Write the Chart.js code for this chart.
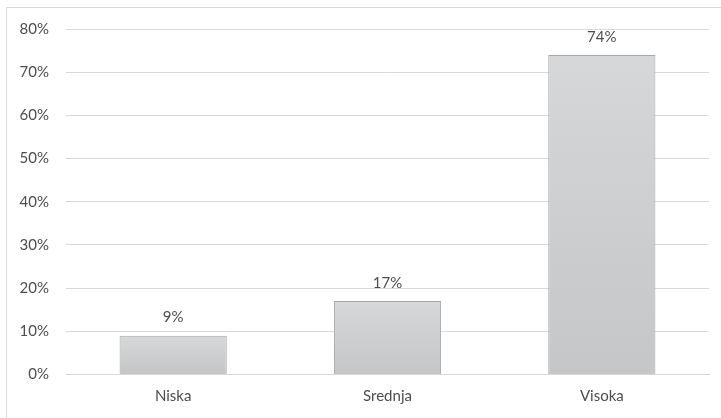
<!DOCTYPE html>
<html>
<head>
<meta charset="utf-8">
<script src="https://cdn.jsdelivr.net/npm/chart.js@4"></script>
<style>
  html, body { margin: 0; padding: 0; background: #fff; }
  #wrap { position: relative; width: 721px; height: 418px; overflow: hidden; }
  #frame { position: absolute; left: 6px; top: 7px; width: 740px; height: 440px; border: 1px solid #d9d9d9; box-sizing: border-box; }
  #chart { position: absolute; left: 0; top: 0; }
</style>
</head>
<body>
<div id="wrap">
  <div id="frame"></div>
  <canvas id="chart" width="721" height="418"></canvas>
</div>
<script>
// data
const CATEGORIES = ['Niska', 'Srednja', 'Visoka'];
const VALUES = [9, 17, 74];
const Y_TICKS = [0, 10, 20, 30, 40, 50, 60, 70, 80];

const TEXT_COLOR = '#4d4d4d';
const FONT = { family: 'Lato, "Open Sans", sans-serif', size: 15 };

//gradient per bar, light on top and darker at the bottom
function bar_gradient(context){
    let chart = context.chart;
    if (!chart.chartArea) return '#cfd0d2';
    let y = chart.scales.y;
    let top = y.getPixelForValue(context.parsed ? context.parsed.y : VALUES[context.dataIndex]);
    let bottom = y.getPixelForValue(0);
    let gradient = chart.ctx.createLinearGradient(0, top, 0, bottom);
    gradient.addColorStop(0, '#d6d7d9');
    gradient.addColorStop(1, '#c5c6c8');
    return gradient;
}

//labels over the bars
const value_labels = {
    id: 'value_labels',
    afterDatasetsDraw(chart){
        let ctx = chart.ctx;
        let meta = chart.getDatasetMeta(0);
        ctx.save();
        ctx.font = FONT.size + 'px ' + FONT.family;
        ctx.fillStyle = TEXT_COLOR;
        ctx.textAlign = 'center';
        ctx.textBaseline = 'middle';
        meta.data.forEach((bar, i) => {
            ctx.fillText(VALUES[i] + '%', bar.x, bar.y - 18);
        });
        ctx.restore();
    }
};

const data = {
    labels: CATEGORIES,
    datasets: [{
        label: '',
        data: VALUES,
        backgroundColor: bar_gradient,
        borderColor: '#a6a6a6',
        borderWidth: 1,
        categoryPercentage: 1,
        barPercentage: 0.5
    }]
};

const config = {
    type: 'bar',
    data: data,
    options: {
        responsive: false,
        animation: false,
        layout: { padding: { left: 0, top: 29, right: 12, bottom: 0 } },
        plugins: {
            legend: { display: false },
            tooltip: { enabled: false }
        },
        scales: {
            x: {
                grid: { display: false, drawTicks: false },
                border: { color: '#d9d9d9', width: 1 },
                ticks: { color: TEXT_COLOR, font: FONT, padding: 13 },
                afterFit(scale){ scale.height = 43.5; }
            },
            y: {
                min: 0,
                max: 80,
                afterBuildTicks(scale){ scale.ticks = Y_TICKS.map(v => ({ value: v })); },
                grid: { color: '#d9d9d9', drawTicks: false },
                border: { display: false },
                ticks: {
                    color: TEXT_COLOR,
                    font: FONT,
                    padding: 17,
                    callback: v => v + '%'
                },
                afterFit(scale){ scale.width = 66; }
            }
        }
    },
    plugins: [value_labels]
};

new Chart(document.getElementById('chart'), config);
</script>
</body>
</html>
